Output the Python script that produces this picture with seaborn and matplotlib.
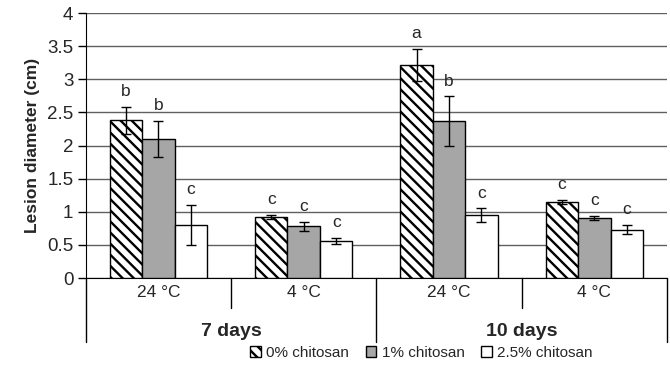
import pandas as pd
import numpy as np
import matplotlib
matplotlib.use('Agg')
import matplotlib.pyplot as plt
import seaborn as sns
from matplotlib.patches import Patch

days = ['7 days', '7 days', '10 days', '10 days']
temps = ['24 °C', '4 °C', '24 °C', '4 °C']
treatments = ['0% chitosan', '1% chitosan', '2.5% chitosan']

lesion_0 = [2.38, 0.92, 3.21, 1.15]
lesion_1 = [2.10, 0.78, 2.37, 0.90]
lesion_25 = [0.80, 0.56, 0.95, 0.73]

err_0 = [0.20, 0.03, 0.24, 0.03]
err_1 = [0.27, 0.07, 0.37, 0.03]
err_25 = [0.30, 0.05, 0.10, 0.07]

letters_0 = ['b', 'c', 'a', 'c']
letters_1 = ['b', 'c', 'b', 'c']
letters_25 = ['c', 'c', 'c', 'c']

conds = [f'{d} | {t}' for d, t in zip(days, temps)]
rows = []
for trt, vals, errs, lets in zip(treatments, [lesion_0, lesion_1, lesion_25],
                                 [err_0, err_1, err_25], [letters_0, letters_1, letters_25]):
    for c, v, e, l in zip(conds, vals, errs, lets):
        rows.append({'cond': c, 'treatment': trt, 'lesion': v, 'err': e, 'letter': l})
df = pd.DataFrame(rows)

sns.set_style('white')
plt.rcParams['font.family'] = ['Liberation Sans', 'DejaVu Sans']
plt.rcParams['hatch.linewidth'] = 1.7

fig = plt.figure(figsize=(6.7, 3.76), dpi=100)
ax = fig.add_axes([0.128, 0.2606, 0.8675, 0.7048])

sns.barplot(data=df, x='cond', y='lesion', hue='treatment', order=conds,
            hue_order=treatments, palette=['white', '#a6a6a6', 'white'],
            edgecolor='black', linewidth=1, width=0.67, errorbar=None,
            saturation=1, legend=False, ax=ax, zorder=3)

for bar in ax.containers[0]:
    bar.set_hatch('\\\\\\')

for cont, trt in zip(ax.containers, treatments):
    sub = df[df['treatment'] == trt].set_index('cond').loc[conds]
    xs = [p.get_x() + p.get_width() / 2 for p in cont]
    ys = [p.get_height() for p in cont]
    ax.errorbar(xs, ys, yerr=sub['err'].values, fmt='none', ecolor='black',
                elinewidth=1, capsize=3.5, capthick=1, zorder=4)
    for x, y, e, l in zip(xs, ys, sub['err'].values, sub['letter'].values):
        ax.text(x, y + e + 0.12, l, ha='center', va='bottom', fontsize=12.5)

ax.set_ylim(0, 4)
ax.set_xlim(-0.5, len(conds) - 0.5)
ax.set_yticks(np.arange(0, 4.01, 0.5))
ax.set_yticklabels(['0', '0.5', '1', '1.5', '2', '2.5', '3', '3.5', '4'], fontsize=13.5)
ax.yaxis.grid(True, color='#606060', linewidth=1)
ax.set_axisbelow(True)
ax.tick_params(axis='y', direction='out', length=6, width=1, color='black', left=True, pad=3)
ax.set_xticks([])
ax.set_xlabel('')
ax.set_ylabel('Lesion diameter (cm)', fontsize=12.5, fontweight='bold', labelpad=5)

for s in ['top', 'right']:
    ax.spines[s].set_visible(False)
ax.spines['left'].set_color('black')
ax.spines['bottom'].set_color('black')
ax.spines['left'].set_bounds(0, 4)

trans = ax.get_xaxis_transform()
# category separators below the axis
for x in [-0.5, 1.5, 3.5]:
    ax.plot([x, x], [0, -0.24], color='black', lw=1, transform=trans, clip_on=False)
for x in [0.5, 2.5]:
    ax.plot([x, x], [0, -0.115], color='black', lw=1, transform=trans, clip_on=False)

for i, t in enumerate(temps):
    ax.text(i, -0.055, t, ha='center', va='center', fontsize=12.5, transform=trans)
for x, d in zip([0.5, 2.5], ['7 days', '10 days']):
    ax.text(x, -0.2, d, ha='center', va='center', fontsize=14, fontweight='bold', transform=trans)

handles = [Patch(facecolor='white', edgecolor='black', hatch='\\\\\\', label=treatments[0]),
           Patch(facecolor='#a6a6a6', edgecolor='black', label=treatments[1]),
           Patch(facecolor='white', edgecolor='black', label=treatments[2])]
fig.legend(handles=handles, loc='center', bbox_to_anchor=(0.629, 0.061), ncol=3,
           frameon=False, fontsize=11, handlelength=0.7, handleheight=0.7,
           handletextpad=0.35, columnspacing=1.1)

fig.savefig('out.png', dpi=100)
